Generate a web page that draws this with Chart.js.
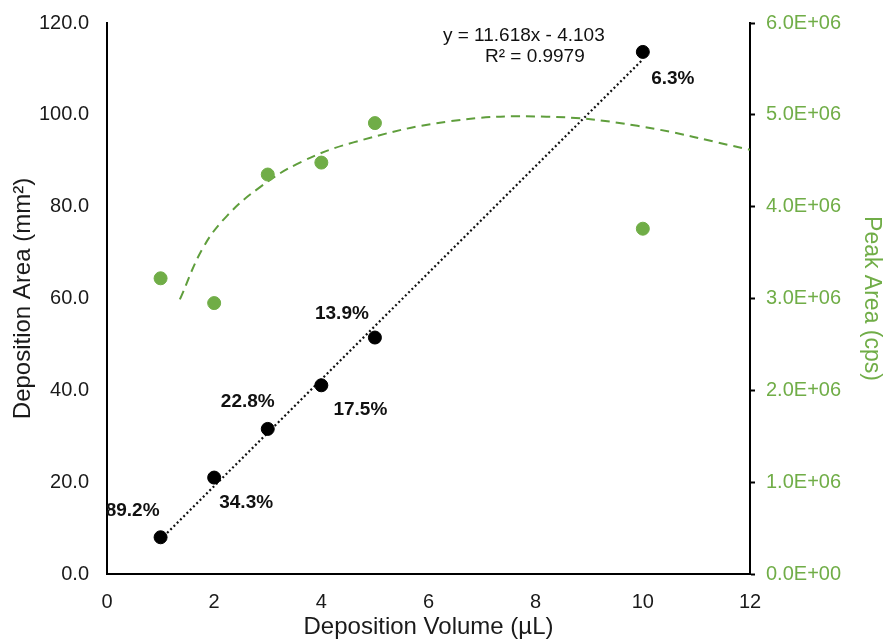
<!doctype html>
<html lang="en">

<head>
  <meta charset="utf-8">
  <title>Deposition Volume vs Area</title>
  <script src="https://cdn.jsdelivr.net/npm/chart.js"></script>
  <style>
    body { margin: 0; background: #fff; }
    #wrap { width: 885px; height: 644px; }
  </style>
</head>

<body>
  <div id="wrap"><canvas id="myChart" width="885" height="644"></canvas></div>

  <script>
    // data
    const volumes = [1, 2, 3, 4, 5, 10];
    const depArea = [8.0, 21.0, 31.6, 41.1, 51.5, 113.7];
    const peakArea = [3.22e6, 2.95e6, 4.35e6, 4.48e6, 4.91e6, 3.76e6];
    const pctLabels = ['89.2%', '34.3%', '22.8%', '17.5%', '13.9%', '6.3%'];

    // linear trendline ends (y = 11.618x - 4.103)
    const trendX = [1, 10];
    const trendY = [7.515, 112.077];

    // polynomial trendline of peak area
    const curveX = [1.36, 1.79, 2.24, 2.85, 3.6, 4.6, 6.4, 8.2, 9.9, 12];
    const curveY = [2.99e6, 3.55e6, 3.90e6, 4.21e6, 4.48e6, 4.70e6, 4.93e6, 4.98e6, 4.88e6, 4.62e6];

    const xTicks = [0, 2, 4, 6, 8, 10, 12];
    const eqLines = ['y = 11.618x - 4.103', 'R\u00b2 = 0.9979'];

    const green = '#70ad47';
    const font = 'Liberation Sans, Arial, Helvetica, sans-serif';

    // label offsets in px from each point
    const pctOffsets = [[-28, -27], [32, 25], [-20, -27], [39, 24], [-33, -24], [30, 27]];

    const toXY = (xs, ys) => xs.map((x, i) => ({ x: x, y: ys[i] }));

    const labelPlugin = {
      id: 'labels',
      afterDatasetsDraw(chart) {
        const ctx = chart.ctx;
        const xs = chart.scales.x, ys = chart.scales.y;
        ctx.save();
        ctx.fillStyle = '#111';
        ctx.textAlign = 'center';
        ctx.textBaseline = 'middle';
        ctx.font = 'bold 19px ' + font;
        pctLabels.forEach((t, i) => {
          const px = xs.getPixelForValue(volumes[i]) + pctOffsets[i][0];
          const py = ys.getPixelForValue(depArea[i]) + pctOffsets[i][1];
          ctx.fillText(t, px, py);
        });
        ctx.font = '19px ' + font;
        const ex = xs.getPixelForValue(volumes[5]);
        const ey = ys.getPixelForValue(depArea[5]);
        ctx.fillText(eqLines[0], ex - 119, ey - 16);
        ctx.fillText(eqLines[1], ex - 108, ey + 5);
        ctx.restore();
      }
    };

    const ctx = document.getElementById('myChart');

    new Chart(ctx, {
      type: 'scatter',
      data: {
        datasets: [{
          label: 'Deposition Area',
          data: toXY(volumes, depArea),
          yAxisID: 'y',
          backgroundColor: '#000',
          borderColor: '#000',
          pointRadius: 6.5,
          clip: false
        },
        {
          label: 'Peak Area',
          data: toXY(volumes, peakArea),
          yAxisID: 'y2',
          backgroundColor: green,
          borderColor: green,
          pointRadius: 6.5,
          clip: false
        },
        {
          label: 'Linear trend',
          data: toXY(trendX, trendY),
          yAxisID: 'y',
          showLine: true,
          borderColor: '#111',
          borderWidth: 2.2,
          borderDash: [2, 2.6],
          pointRadius: 0
        },
        {
          label: 'Poly trend',
          data: toXY(curveX, curveY),
          yAxisID: 'y2',
          showLine: true,
          borderColor: '#5f9e3c',
          borderWidth: 2,
          borderDash: [9, 6],
          tension: 0.4,
          pointRadius: 0
        }]
      },
      options: {
        responsive: false,
        animation: false,
        layout: { padding: { top: 12, left: 0, right: 0, bottom: 0 } },
        plugins: {
          legend: { display: false },
          tooltip: { enabled: false }
        },
        scales: {
          x: {
            type: 'linear',
            min: 0,
            max: 12,
            afterBuildTicks: (s) => { s.ticks = xTicks.map(v => ({ value: v })); },
            afterFit: (s) => { s.height = 70; },
            grid: { display: false },
            border: { display: true, color: '#000', width: 2 },
            ticks: { color: '#1a1a1a', font: { family: font, size: 20 }, padding: 8 },
            title: {
              display: true,
              text: 'Deposition Volume (\u00b5L)',
              color: '#1a1a1a',
              font: { family: font, size: 24 },
              padding: { top: 0, bottom: 2 }
            }
          },
          y: {
            position: 'left',
            min: 0,
            max: 120,
            afterFit: (s) => { s.width = 107; },
            grid: { display: false },
            border: { display: true, color: '#000', width: 2 },
            ticks: {
              stepSize: 20,
              color: '#1a1a1a',
              font: { family: font, size: 20 },
              padding: 10,
              callback: (v) => v.toFixed(1)
            },
            title: {
              display: true,
              text: 'Deposition Area (mm\u00b2)',
              color: '#1a1a1a',
              font: { family: font, size: 24 },
              padding: { top: 9, bottom: 0 }
            }
          },
          y2: {
            position: 'right',
            min: 0,
            max: 6e6,
            afterFit: (s) => { s.width = 135; },
            grid: { display: true, drawOnChartArea: false, drawTicks: true, tickLength: 5, tickColor: '#000', tickWidth: 2 },
            border: { display: true, color: '#000', width: 2 },
            ticks: {
              stepSize: 1e6,
              color: green,
              font: { family: font, size: 20 },
              padding: 11,
              callback: function (v) {
                const parts = Number(v).toExponential(1).split('e');
                const exp = parseInt(parts[1], 10);
                const sign = exp < 0 ? '-' : '+';
                return parts[0] + 'E' + sign + String(Math.abs(exp)).padStart(2, '0');
              }
            },
            title: {
              display: true,
              text: 'Peak Area (cps)',
              color: green,
              font: { family: font, size: 23 },
              padding: { top: 0, bottom: 0 }
            }
          }
        }
      },
      plugins: [labelPlugin]
    });
  </script>
</body>

</html>
